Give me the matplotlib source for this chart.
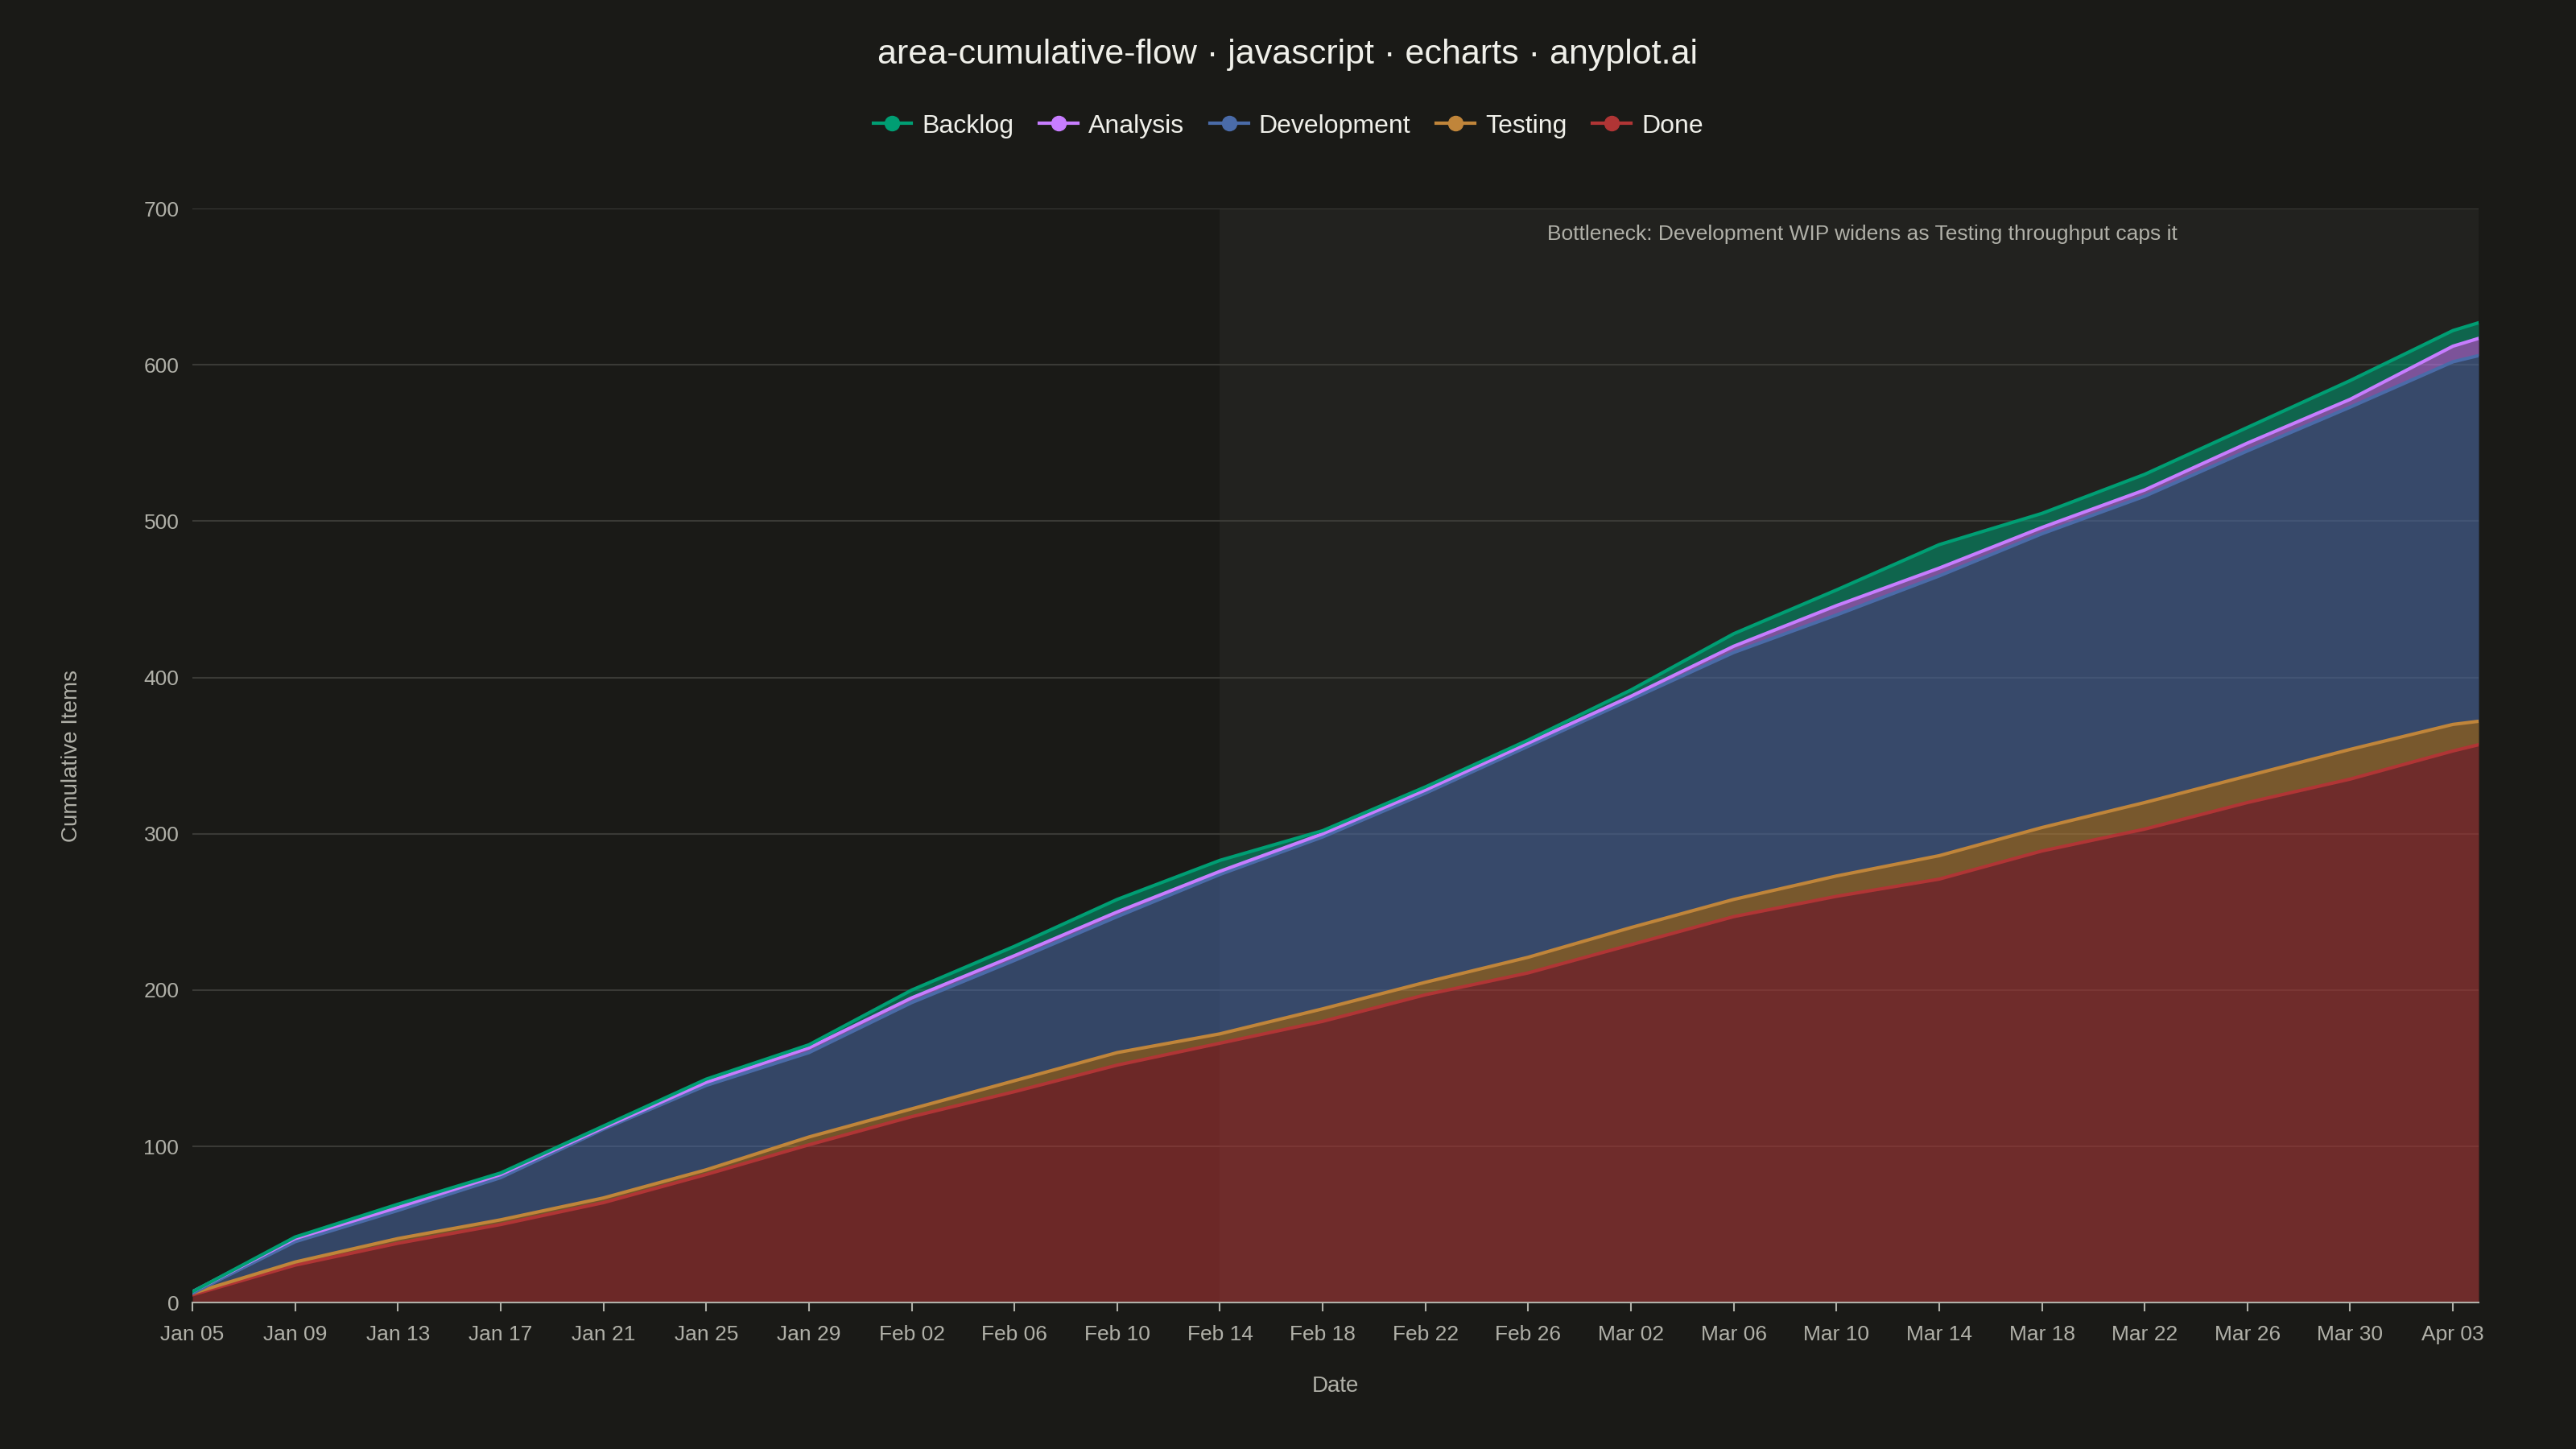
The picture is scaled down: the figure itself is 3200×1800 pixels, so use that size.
import matplotlib
matplotlib.use("Agg")
import matplotlib.pyplot as plt
import matplotlib.dates as mdates
from matplotlib.lines import Line2D
import numpy as np
import datetime as dt

plt.rcParams['font.family'] = ['Liberation Sans', 'DejaVu Sans']

dates = [dt.date(2025, 1, 5) + dt.timedelta(days=4 * i) for i in range(23)] + [dt.date(2025, 4, 4)]
done_top = [5, 24, 38, 50, 64, 82, 101, 119, 135, 152, 166, 180, 197, 211, 229, 247, 260, 271, 289, 303, 320, 335, 353, 357]
testing_top = [6, 26, 41, 53, 67, 85, 106, 124, 142, 160, 172, 188, 205, 221, 240, 258, 273, 286, 304, 320, 337, 354, 370, 372]
development_top = [6, 39, 59, 80, 111, 139, 160, 192, 219, 247, 274, 298, 326, 356, 386, 416, 440, 465, 492, 516, 545, 573, 602, 606]
analysis_top = [7, 41, 61, 82, 112, 141, 163, 195, 222, 250, 276, 300, 328, 358, 388, 420, 446, 470, 496, 520, 550, 578, 612, 617]
backlog_top = [7, 42, 63, 83, 113, 143, 165, 200, 228, 258, 283, 302, 330, 360, 392, 428, 456, 485, 505, 530, 560, 590, 622, 627]

names = ["Backlog", "Analysis", "Development", "Testing", "Done"]
colors = ["#009E73", "#C77DFF", "#4A6BA8", "#C0853A", "#B03535"]
tops = [backlog_top, analysis_top, development_top, testing_top, done_top]

bg = "#1A1A17"
fig = plt.figure(figsize=(32, 18), dpi=100, facecolor=bg)
ax = fig.add_axes([0.0747, 0.101, 0.8875, 0.755], facecolor=bg)

x = mdates.date2num(dates)
ax.axvspan(mdates.date2num(dt.date(2025, 2, 14)), x[-1], color="#ffffff", alpha=0.035, lw=0, zorder=0)

for i in range(5):
    top = np.array(tops[i])
    bottom = np.array(tops[i + 1]) if i < 4 else np.zeros(len(top))
    ax.fill_between(x, bottom, top, color=colors[i], alpha=0.55, lw=0, zorder=2 + (4 - i))
    ax.plot(x, top, color=colors[i], lw=3, zorder=10 + (4 - i))

ax.set_xlim(x[0], x[-1])
ax.set_ylim(0, 700)
ax.set_yticks(range(0, 701, 100))
tick_dates = [dt.date(2025, 1, 5) + dt.timedelta(days=4 * i) for i in range(23)]
ax.set_xticks(mdates.date2num(tick_dates))
ax.set_xticklabels([d.strftime("%b %d") for d in tick_dates])
ax.grid(axis="y", color="#3A3A36", lw=1.5, zorder=1)
ax.set_axisbelow(True)
for s in ["top", "right", "left"]:
    ax.spines[s].set_visible(False)
ax.spines["bottom"].set_color("#B0B0A8")
ax.spines["bottom"].set_linewidth(1.5)
ax.tick_params(axis="both", colors="#B0B0A8", labelsize=19, length=0, pad=12)
ax.tick_params(axis="x", length=8, width=1.5, color="#B0B0A8")
ax.set_xlabel("Date", color="#B0B0A8", fontsize=20, labelpad=28)
ax.set_ylabel("Cumulative Items", color="#B0B0A8", fontsize=20, labelpad=55)

ax.text(mdates.date2num(dt.date(2025, 3, 11)), 690, "Bottleneck: Development WIP widens as Testing throughput caps it",
        ha="center", va="top", color="#B0B0A8", fontsize=19, zorder=20)

fig.text(0.5, 0.962, "area-cumulative-flow · javascript · echarts · anyplot.ai", ha="center", va="center",
         color="#F0F0EA", fontsize=31)

handles = [Line2D([0], [0], color=c, lw=3, marker="o", markersize=13) for c in colors]
fig.legend(handles, names, loc="center", bbox_to_anchor=(0.5, 0.913), ncol=5, frameon=False,
           fontsize=23, labelcolor="#F0F0EA", handlelength=1.5, handletextpad=0.4, columnspacing=1.0)

fig.savefig("out.png", dpi=100, facecolor=bg)
